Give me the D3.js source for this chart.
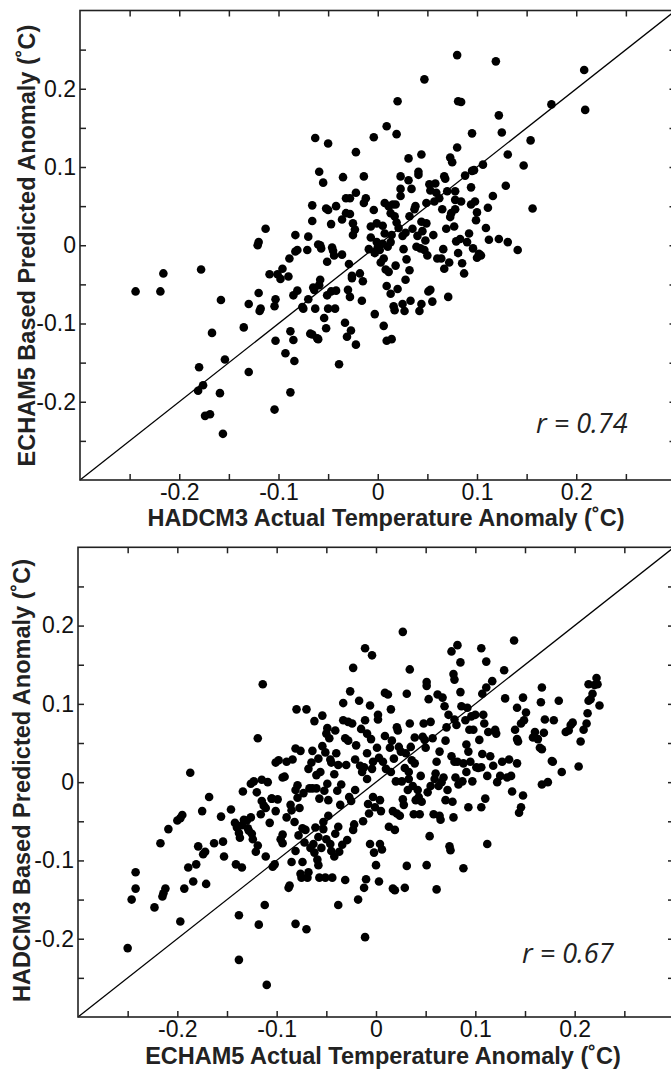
<!DOCTYPE html>
<html><head><meta charset="utf-8">
<script src="https://cdn.jsdelivr.net/npm/d3@7"></script>
<style>body{margin:0;background:#fff} svg{display:block}</style>
</head><body>
<svg id="chart" width="671" height="1070"></svg>
<script>
// Top panel: HADCM3 actual (x) vs ECHAM5-based predicted (y)
const topPoints = [[-0.244,-0.059],[-0.219,-0.059],[-0.216,-0.036],[-0.178,-0.031],[-0.158,-0.070],[-0.167,-0.112],[-0.180,-0.156],[-0.181,-0.186],[-0.176,-0.179],[-0.174,-0.218],[-0.169,-0.216],[-0.159,-0.189],[-0.156,-0.241],[-0.154,-0.146],[-0.135,-0.105],[-0.130,-0.075],[-0.130,-0.162],[-0.120,-0.061],[-0.119,-0.084],[-0.118,-0.081],[-0.121,0.000],[-0.120,0.004],[-0.113,0.021],[-0.109,-0.037],[-0.104,-0.078],[-0.103,-0.069],[-0.103,-0.122],[-0.104,-0.210],[-0.098,-0.043],[-0.096,-0.030],[-0.093,-0.138],[-0.089,-0.017],[-0.090,-0.040],[-0.088,-0.110],[-0.088,-0.188],[-0.085,-0.064],[-0.085,-0.121],[-0.084,-0.148],[-0.083,0.013],[-0.083,-0.008],[-0.081,-0.058],[-0.081,-0.006],[-0.076,-0.079],[-0.075,-0.081],[-0.070,0.011],[-0.071,-0.006],[-0.070,-0.069],[-0.068,-0.113],[-0.066,0.031],[-0.066,0.051],[-0.066,-0.114],[-0.065,-0.054],[-0.064,-0.057],[-0.063,0.137],[-0.063,-0.081],[-0.061,-0.119],[-0.060,-0.120],[-0.060,0.001],[-0.059,0.094],[-0.058,-0.044],[-0.059,-0.051],[-0.058,0.000],[-0.057,-0.004],[-0.055,0.080],[-0.054,-0.093],[-0.052,-0.106],[-0.052,0.047],[-0.050,0.045],[-0.051,-0.064],[-0.050,-0.081],[-0.050,0.130],[-0.051,-0.021],[-0.047,-0.059],[-0.047,0.027],[-0.046,-0.003],[-0.045,-0.007],[-0.044,-0.013],[-0.043,-0.081],[-0.042,-0.058],[-0.042,0.050],[-0.039,-0.152],[-0.036,-0.012],[-0.036,0.033],[-0.035,0.087],[-0.033,-0.099],[-0.032,0.060],[-0.032,0.041],[-0.030,-0.057],[-0.031,-0.117],[-0.028,0.060],[-0.029,-0.024],[-0.028,-0.066],[-0.027,-0.109],[-0.028,0.040],[-0.026,-0.039],[-0.026,-0.042],[-0.025,0.013],[-0.025,0.028],[-0.023,0.020],[-0.022,-0.127],[-0.022,0.119],[-0.022,0.067],[-0.018,-0.036],[-0.016,-0.071],[-0.015,-0.046],[-0.014,0.088],[-0.014,0.054],[-0.012,0.060],[-0.009,-0.005],[-0.007,0.024],[-0.007,0.010],[-0.004,0.045],[-0.003,-0.088],[-0.004,0.138],[-0.003,-0.010],[-0.001,0.028],[-0.001,0.004],[0.000,-0.003],[0.002,-0.006],[0.003,-0.022],[0.005,0.002],[0.006,-0.017],[0.006,-0.103],[0.007,0.054],[0.007,0.015],[0.009,-0.122],[0.008,-0.031],[0.009,0.152],[0.009,-0.052],[0.010,-0.002],[0.011,0.050],[0.011,-0.034],[0.013,0.041],[0.013,-0.062],[0.014,-0.120],[0.013,0.004],[0.014,0.013],[0.015,0.052],[0.016,-0.078],[0.017,-0.083],[0.017,0.037],[0.018,0.052],[0.019,0.142],[0.020,0.184],[0.018,-0.026],[0.019,0.029],[0.020,-0.056],[0.021,0.022],[0.023,0.088],[0.023,0.063],[0.023,0.072],[0.025,-0.075],[0.027,-0.084],[0.026,-0.005],[0.028,0.016],[0.028,-0.044],[0.029,-0.018],[0.031,0.083],[0.031,0.111],[0.032,0.037],[0.032,-0.032],[0.033,-0.071],[0.034,0.072],[0.035,0.021],[0.037,0.046],[0.038,0.050],[0.039,-0.002],[0.040,0.012],[0.041,0.090],[0.041,0.094],[0.042,-0.084],[0.043,-0.004],[0.044,0.116],[0.044,-0.075],[0.044,0.030],[0.045,0.018],[0.047,0.212],[0.047,-0.006],[0.048,0.006],[0.049,0.054],[0.049,0.028],[0.050,-0.013],[0.051,-0.059],[0.052,0.078],[0.053,0.070],[0.053,-0.057],[0.055,-0.072],[0.056,0.013],[0.057,0.056],[0.058,0.079],[0.059,0.067],[0.060,-0.017],[0.062,0.060],[0.064,-0.017],[0.065,0.046],[0.066,-0.005],[0.067,-0.030],[0.067,0.088],[0.068,0.085],[0.069,0.021],[0.070,0.069],[0.071,-0.066],[0.072,-0.022],[0.073,0.112],[0.073,0.036],[0.074,0.041],[0.075,0.106],[0.077,0.024],[0.078,0.058],[0.078,0.046],[0.079,0.005],[0.080,0.125],[0.080,0.243],[0.081,-0.010],[0.081,0.184],[0.084,0.183],[0.083,0.008],[0.084,0.056],[0.085,-0.023],[0.087,-0.036],[0.088,0.089],[0.090,0.004],[0.092,0.015],[0.094,0.052],[0.094,0.074],[0.095,0.143],[0.095,0.095],[0.097,0.096],[0.096,-0.004],[0.098,0.056],[0.099,0.032],[0.100,-0.016],[0.100,0.042],[0.102,-0.011],[0.104,-0.013],[0.106,0.103],[0.109,0.022],[0.111,0.048],[0.112,0.007],[0.116,0.063],[0.119,0.235],[0.122,0.166],[0.122,0.008],[0.125,0.144],[0.129,0.076],[0.131,0.116],[0.131,0.004],[0.141,-0.006],[0.147,0.102],[0.154,0.134],[0.156,0.047],[0.175,0.180],[0.208,0.224],[0.209,0.173],[0.078,0.069],[0.005,0.025],[0.025,0.012],[-0.101,-0.037]];

// Bottom panel: ECHAM5 actual (x) vs HADCM3-based predicted (y)
const bottomPoints = [[-0.250,-0.212],[-0.246,-0.150],[-0.242,-0.136],[-0.242,-0.115],[-0.223,-0.160],[-0.217,-0.078],[-0.215,-0.146],[-0.214,-0.142],[-0.212,-0.136],[-0.209,-0.060],[-0.200,-0.049],[-0.197,-0.046],[-0.195,-0.042],[-0.197,-0.178],[-0.193,-0.136],[-0.189,-0.109],[-0.187,0.012],[-0.184,-0.127],[-0.181,-0.105],[-0.179,-0.082],[-0.175,-0.037],[-0.174,-0.092],[-0.172,-0.089],[-0.171,-0.130],[-0.168,-0.019],[-0.163,-0.078],[-0.156,-0.044],[-0.154,-0.076],[-0.153,-0.095],[-0.146,-0.035],[-0.141,-0.105],[-0.142,-0.052],[-0.140,-0.058],[-0.138,-0.065],[-0.137,-0.071],[-0.138,-0.170],[-0.138,-0.227],[-0.135,-0.109],[-0.134,-0.012],[-0.130,-0.049],[-0.129,-0.059],[-0.126,-0.045],[-0.125,-0.066],[-0.124,-0.073],[-0.126,-0.002],[-0.123,0.001],[-0.121,-0.089],[-0.119,-0.081],[-0.120,-0.013],[-0.119,0.056],[-0.118,-0.182],[-0.116,-0.041],[-0.115,-0.024],[-0.115,0.003],[-0.114,0.125],[-0.113,-0.030],[-0.112,-0.157],[-0.111,-0.095],[-0.111,-0.033],[-0.110,-0.259],[-0.109,0.000],[-0.107,-0.052],[-0.105,-0.021],[-0.104,-0.108],[-0.102,-0.105],[-0.101,0.025],[-0.099,-0.022],[-0.098,0.028],[-0.096,-0.073],[-0.094,-0.067],[-0.094,0.006],[-0.094,-0.078],[-0.092,0.007],[-0.090,0.026],[-0.090,-0.045],[-0.088,-0.135],[-0.087,-0.132],[-0.086,-0.029],[-0.085,-0.102],[-0.085,-0.036],[-0.084,0.029],[-0.082,-0.051],[-0.081,0.043],[-0.081,-0.181],[-0.081,-0.088],[-0.081,-0.010],[-0.080,0.093],[-0.079,-0.004],[-0.079,-0.020],[-0.078,-0.068],[-0.077,-0.033],[-0.076,0.040],[-0.076,-0.117],[-0.075,-0.122],[-0.074,-0.102],[-0.074,-0.059],[-0.073,-0.014],[-0.072,-0.077],[-0.071,-0.061],[-0.070,-0.188],[-0.070,0.093],[-0.069,-0.122],[-0.068,-0.115],[-0.068,0.017],[-0.067,-0.008],[-0.066,-0.084],[-0.065,0.025],[-0.064,0.040],[-0.064,-0.008],[-0.063,-0.079],[-0.062,0.078],[-0.061,-0.058],[-0.060,-0.008],[-0.059,-0.099],[-0.058,-0.106],[-0.058,0.030],[-0.057,-0.021],[-0.057,-0.122],[-0.056,0.013],[-0.055,-0.084],[-0.054,0.085],[-0.054,0.046],[-0.053,-0.051],[-0.052,-0.011],[-0.051,0.038],[-0.051,-0.122],[-0.050,-0.073],[-0.050,0.062],[-0.049,-0.002],[-0.049,0.069],[-0.048,-0.043],[-0.048,-0.023],[-0.047,0.056],[-0.046,-0.079],[-0.046,0.029],[-0.045,0.025],[-0.044,-0.122],[-0.042,0.010],[-0.041,0.066],[-0.041,-0.066],[-0.040,0.037],[-0.039,-0.011],[-0.038,-0.157],[-0.038,-0.057],[-0.037,-0.089],[-0.036,-0.029],[-0.035,-0.003],[-0.034,-0.080],[-0.033,0.101],[-0.033,0.079],[-0.031,0.056],[-0.031,-0.125],[-0.030,0.022],[-0.029,-0.074],[-0.028,0.077],[-0.028,0.053],[-0.027,-0.019],[-0.026,0.116],[-0.025,-0.024],[-0.024,0.075],[-0.023,0.146],[-0.023,-0.061],[-0.022,-0.054],[-0.021,-0.010],[-0.021,0.029],[-0.020,0.047],[-0.018,-0.150],[-0.017,0.104],[-0.016,0.021],[-0.015,0.068],[-0.014,0.013],[-0.013,-0.050],[-0.012,0.019],[-0.012,-0.135],[-0.011,-0.198],[-0.011,0.171],[-0.010,-0.124],[-0.011,0.079],[-0.009,0.062],[-0.009,0.004],[-0.009,0.037],[-0.008,-0.028],[-0.007,-0.040],[-0.006,-0.079],[-0.006,0.098],[-0.005,0.055],[-0.004,0.017],[-0.004,0.162],[-0.003,0.026],[-0.003,-0.019],[-0.002,-0.090],[-0.001,-0.032],[0.000,-0.106],[0.001,0.044],[0.002,0.086],[0.002,0.080],[0.003,0.031],[0.003,-0.127],[0.004,-0.079],[0.004,-0.023],[0.005,-0.037],[0.006,-0.086],[0.007,0.026],[0.009,0.114],[0.009,0.059],[0.010,0.017],[0.012,0.112],[0.013,-0.057],[0.014,0.044],[0.015,0.093],[0.015,0.013],[0.016,0.053],[0.017,-0.037],[0.017,-0.136],[0.018,0.030],[0.019,-0.061],[0.019,-0.138],[0.020,0.001],[0.021,-0.040],[0.021,0.070],[0.022,0.066],[0.023,0.045],[0.024,-0.043],[0.025,0.039],[0.026,0.001],[0.027,-0.022],[0.027,0.192],[0.028,-0.029],[0.029,-0.135],[0.029,0.018],[0.030,0.037],[0.031,-0.107],[0.031,0.113],[0.032,-0.010],[0.033,0.013],[0.033,0.004],[0.034,0.144],[0.034,0.075],[0.035,0.045],[0.036,0.028],[0.037,-0.005],[0.038,-0.041],[0.039,0.024],[0.039,0.057],[0.040,-0.023],[0.042,-0.010],[0.043,-0.019],[0.044,-0.041],[0.045,0.008],[0.046,-0.025],[0.047,0.058],[0.048,0.075],[0.049,0.054],[0.050,0.044],[0.051,0.128],[0.051,0.123],[0.051,-0.106],[0.052,-0.013],[0.053,0.106],[0.054,-0.069],[0.055,-0.005],[0.055,0.077],[0.057,0.056],[0.058,-0.041],[0.059,0.004],[0.060,0.011],[0.061,0.026],[0.061,-0.137],[0.062,0.112],[0.063,-0.005],[0.064,0.039],[0.064,-0.043],[0.065,-0.048],[0.066,0.000],[0.067,0.108],[0.068,0.006],[0.069,0.097],[0.070,0.053],[0.070,-0.023],[0.071,0.070],[0.072,-0.010],[0.073,0.086],[0.074,-0.082],[0.075,-0.087],[0.076,0.033],[0.076,0.167],[0.077,-0.025],[0.078,-0.045],[0.078,0.138],[0.079,0.026],[0.079,0.131],[0.079,0.080],[0.080,0.006],[0.081,0.073],[0.082,0.175],[0.082,0.026],[0.083,-0.003],[0.085,0.153],[0.085,0.115],[0.086,0.097],[0.087,0.001],[0.088,-0.110],[0.088,0.024],[0.090,0.079],[0.091,0.048],[0.091,0.013],[0.092,0.095],[0.093,0.039],[0.093,-0.032],[0.094,0.067],[0.095,0.026],[0.096,0.084],[0.097,0.001],[0.098,0.067],[0.100,0.086],[0.101,0.019],[0.103,0.018],[0.104,0.054],[0.106,0.019],[0.106,0.171],[0.106,-0.032],[0.107,0.113],[0.107,0.036],[0.108,0.086],[0.109,0.075],[0.110,-0.021],[0.111,0.154],[0.111,0.121],[0.112,-0.079],[0.112,0.008],[0.113,0.064],[0.115,0.033],[0.117,0.129],[0.118,0.021],[0.120,0.067],[0.121,0.062],[0.122,0.000],[0.125,0.008],[0.127,0.026],[0.129,0.143],[0.130,0.107],[0.132,0.006],[0.134,0.029],[0.136,0.008],[0.137,-0.012],[0.139,0.181],[0.140,0.067],[0.142,0.024],[0.142,0.095],[0.142,0.055],[0.143,0.052],[0.144,-0.039],[0.146,-0.032],[0.146,0.075],[0.148,-0.017],[0.148,0.108],[0.149,0.079],[0.151,0.089],[0.158,0.057],[0.160,0.064],[0.163,0.055],[0.165,0.044],[0.166,0.102],[0.167,0.042],[0.167,0.121],[0.167,-0.003],[0.169,0.063],[0.170,0.080],[0.173,0.000],[0.177,0.027],[0.178,0.026],[0.179,0.079],[0.184,0.104],[0.187,0.013],[0.191,0.064],[0.194,0.066],[0.196,0.073],[0.198,0.076],[0.204,0.020],[0.206,0.052],[0.209,0.067],[0.212,0.075],[0.213,0.088],[0.214,0.104],[0.214,0.125],[0.216,0.106],[0.218,0.113],[0.220,0.124],[0.222,0.133],[0.223,0.125],[0.225,0.098],[-0.101,-0.037],[-0.060,0.009],[-0.038,0.022],[-0.135,-0.055],[-0.133,-0.048],[-0.128,-0.062],[-0.105,-0.021],[-0.062,-0.090],[-0.058,-0.070],[-0.053,-0.060],[-0.045,-0.088],[-0.042,-0.095]];

const tickValues = [-0.25,-0.2,-0.15,-0.1,-0.05,0,0.05,0.1,0.15,0.2,0.25];
const labelValues = [-0.2,-0.1,0,0.1,0.2];
const tickLabels = ["-0.2","-0.1","0","0.1","0.2"];
const domainRange = [-0.3, 0.3];

const panels = [
  {points: topPoints, xTitle: "HADCM3 Actual Temperature Anomaly (\u02DAC)", yTitle: "ECHAM5 Based Predicted Anomaly (\u02DAC)", rText: "r = 0.74",
   left: 80, top: 10.5, width: 595.5, height: 469.5, xTitleX: 386, xTitleY: 526, yTitleX: 35, yTitleY: 245.5, rX: 536, rY: 433},
  {points: bottomPoints, xTitle: "ECHAM5 Actual Temperature Anomaly (\u02DAC)", yTitle: "HADCM3 Based Predicted Anomaly (\u02DAC)", rText: "r = 0.67",
   left: 78, top: 547.3, width: 596, height: 469.7, xTitleX: 383, xTitleY: 1064, yTitleX: 30, yTitleY: 780.5, rX: 522, rY: 963}
];

const svg = d3.select("#chart");
const fontMain = "'Liberation Sans', Arial, Helvetica, sans-serif";
const fmt = v => { const i = labelValues.findIndex(l => Math.abs(l - v) < 1e-9); return i >= 0 ? tickLabels[i] : ""; };

panels.forEach(p => {
  const x = d3.scaleLinear().domain(domainRange).range([p.left, p.left + p.width]);
  const y = d3.scaleLinear().domain(domainRange).range([p.top + p.height, p.top]);
  const g = svg.append("g");

  // diagonal 1:1 line
  g.append("line")
    .attr("x1", x(domainRange[0])).attr("y1", y(domainRange[0]))
    .attr("x2", x(domainRange[1])).attr("y2", y(domainRange[1]))
    .attr("stroke", "#000").attr("stroke-width", 1.3);

  // dots
  g.append("g").selectAll("circle").data(p.points).join("circle")
    .attr("cx", d => x(d[0])).attr("cy", d => y(d[1])).attr("r", 4.3).attr("fill", "#000");

  // axes (inward ticks on all sides)
  const styleAxis = sel => {
    sel.attr("font-family", fontMain).attr("font-size", 23);
    sel.select(".domain").remove();
    sel.selectAll(".tick line").attr("stroke", "#222").attr("stroke-width", 1.5);
    sel.selectAll(".tick text").attr("fill", "#111");
  };
  g.append("g").attr("transform", `translate(0,${p.top + p.height})`)
    .call(d3.axisBottom(x).tickValues(tickValues).tickSize(-6).tickPadding(3.5).tickFormat(fmt)).call(styleAxis);
  g.append("g").attr("transform", `translate(0,${p.top})`)
    .call(d3.axisTop(x).tickValues(tickValues).tickSize(-6).tickFormat("")).call(styleAxis);
  g.append("g").attr("transform", `translate(${p.left},0)`)
    .call(d3.axisLeft(y).tickValues(tickValues).tickSize(-6).tickPadding(4).tickFormat(fmt)).call(styleAxis);
  g.append("g").attr("transform", `translate(${p.left + p.width},0)`)
    .call(d3.axisRight(y).tickValues(tickValues).tickSize(-6).tickFormat("")).call(styleAxis);

  // frame
  g.append("rect").attr("x", p.left).attr("y", p.top).attr("width", p.width).attr("height", p.height)
    .attr("fill", "none").attr("stroke", "#222").attr("stroke-width", 1.6);

  // titles
  g.append("text").attr("x", p.xTitleX).attr("y", p.xTitleY).attr("text-anchor", "middle")
    .attr("font-family", fontMain).attr("font-weight", "bold").attr("font-size", 23.5).attr("fill", "#222")
    .text(p.xTitle);
  g.append("text").attr("transform", `translate(${p.yTitleX},${p.yTitleY}) rotate(-90)`).attr("text-anchor", "middle")
    .attr("font-family", fontMain).attr("font-weight", "bold").attr("font-size", 23.5).attr("fill", "#222")
    .text(p.yTitle);

  // correlation
  g.append("text").attr("x", p.rX).attr("y", p.rY)
    .attr("font-family", "'Open Sans', 'Noto Sans', sans-serif").attr("font-style", "italic").attr("font-size", 27).attr("fill", "#222")
    .text(p.rText);
});
</script>
</body></html>
